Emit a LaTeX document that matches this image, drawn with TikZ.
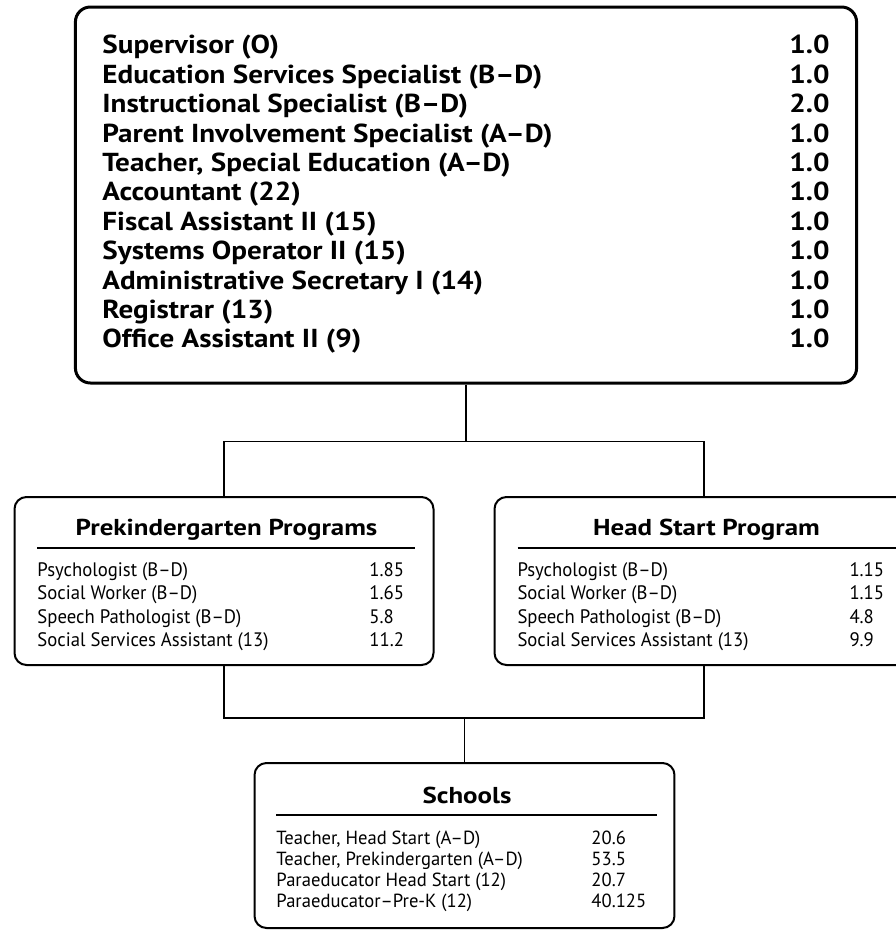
\documentclass[tikz,border=0pt]{standalone}
\usepackage{fontspec}
\setmainfont{PT Sans}
\newfontfamily\officefont{PT Sans}[Ligatures=TeX, FakeStretch=1.12]
\newfontfamily\headfont{PT Sans}[Ligatures=TeX, FakeStretch=1.17]
\newfontfamily\narrowfont{PT Sans}[Ligatures=TeX, FakeStretch=0.96]
\newfontfamily\schoolfont{PT Sans}[Ligatures=TeX, FakeStretch=0.98]
\usepackage{array}
\usetikzlibrary{positioning}

\begin{document}
\begin{tikzpicture}[
    x=1pt, y=1pt,
    node distance=386pt,
    officebox/.style={rectangle, draw, line width=3pt, rounded corners=15pt, inner xsep=27pt, inner ysep=0pt, minimum width=776pt, minimum height=376pt},
    progbox/.style={rectangle, draw, line width=2pt, rounded corners=12pt, inner xsep=18pt, inner ysep=0pt, minimum width=414pt, minimum height=168pt},
    link/.style={line width=1.6pt}
]
\useasboundingbox (0,0) rectangle (896,-930);

% Boxes
\node[officebox] (office) at (466,-195) {\officefont\bfseries\fontsize{26}{29.4}\selectfont
    \begin{tabular}{@{}p{687pt}@{}l@{}}
    Supervisor (O) & 1.0\\
    Education Services Specialist (B--D) & 1.0\\
    Instructional Specialist (B--D) & 2.0\\
    Parent Involvement Specialist (A--D) & 1.0\\
    Teacher, Special Education (A--D) & 1.0\\
    Accountant (22) & 1.0\\
    Fiscal Assistant II (15) & 1.0\\
    Systems Operator II (15) & 1.0\\
    Administrative Secretary I (14) & 1.0\\
    Registrar (13) & 1.0\\
    Office Assistant II (9) & 1.0
    \end{tabular}};

\node[progbox, below of=office, xshift=-242pt] (prek) {\narrowfont\fontsize{19.5}{23.5}\selectfont\setlength{\arrayrulewidth}{1.5pt}
    \begin{tabular}{@{}p{332pt}@{}p{46pt}@{}}
    \noalign{\vskip 11pt}
    \multicolumn{2}{@{}c@{}}{\headfont\bfseries\fontsize{23}{23.5}\selectfont Prekindergarten Programs}\\[4.5pt]
    \hline
    \noalign{\vskip 11.5pt}
    Psychologist (B--D) & 1.85\\
    Social Worker (B--D) & 1.65\\
    Speech Pathologist (B--D) & 5.8\\
    Social Services Assistant (13) & 11.2
    \end{tabular}};

\node[progbox, right of=prek, xshift=94pt] (headstart) {\narrowfont\fontsize{19.5}{23.5}\selectfont\setlength{\arrayrulewidth}{1.5pt}
    \begin{tabular}{@{}p{332pt}@{}p{46pt}@{}}
    \noalign{\vskip 11pt}
    \multicolumn{2}{@{}c@{}}{\headfont\bfseries\fontsize{23}{23.5}\selectfont Head Start Program}\\[4.5pt]
    \hline
    \noalign{\vskip 11.5pt}
    Psychologist (B--D) & 1.15\\
    Social Worker (B--D) & 1.15\\
    Speech Pathologist (B--D) & 4.8\\
    Social Services Assistant (13) & 9.9
    \end{tabular}};

\node[progbox, minimum width=415pt, minimum height=165pt, inner xsep=17pt, below of=office, xshift=-1.5pt, yshift=-264.5pt] (schools) {\schoolfont\fontsize{19}{21}\selectfont\setlength{\arrayrulewidth}{1.5pt}
    \begin{tabular}{@{}p{315pt}@{}p{66pt}@{}}
    \noalign{\vskip 9.6pt}
    \multicolumn{2}{@{}c@{}}{\headfont\bfseries\fontsize{23}{21}\selectfont Schools}\\[4.25pt]
    \hline
    \noalign{\vskip 13.85pt}
    Teacher, Head Start (A--D) & 20.6\\
    Teacher, Prekindergarten (A--D) & 53.5\\
    Paraeducator Head Start (12) & 20.7\\
    Paraeducator--Pre-K (12) & 40.125
    \end{tabular}};

% Connections
\draw[link] (office.south) -- ++(0,-57) coordinate (split);
\draw[link] (prek.north) |- (split) -| (headstart.north);
\draw[link] (schools.north) -- ++(0,44) coordinate (merge);
\draw[link] (prek.south) |- (merge) -| (headstart.south);

\end{tikzpicture}
\end{document}
